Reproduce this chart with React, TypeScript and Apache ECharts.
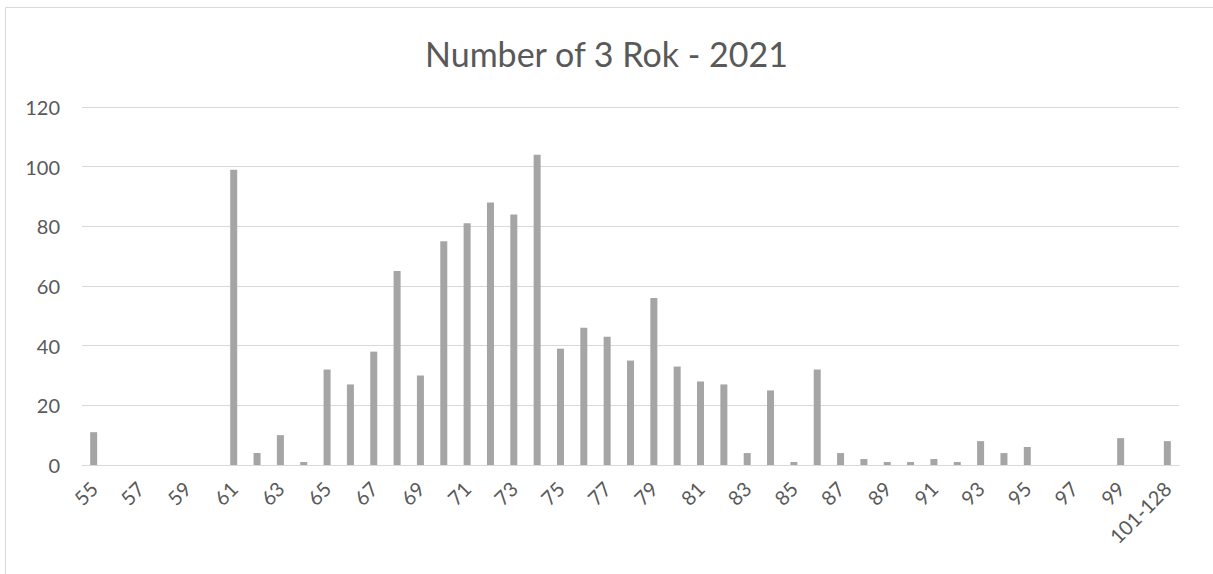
import React, { useEffect, useRef } from "react";
import * as echarts from "echarts";

const categories: string[] = [
  "55", "56", "57", "58", "59", "60", "61", "62", "63", "64",
  "65", "66", "67", "68", "69", "70", "71", "72", "73", "74",
  "75", "76", "77", "78", "79", "80", "81", "82", "83", "84",
  "85", "86", "87", "88", "89", "90", "91", "92", "93", "94",
  "95", "96", "97", "98", "99", "100", "101-128",
];

const counts: number[] = [
  11, 0, 0, 0, 0, 0, 99, 4, 10, 1,
  32, 27, 38, 65, 30, 75, 81, 88, 84, 104,
  39, 46, 43, 35, 56, 33, 28, 27, 4, 25,
  1, 32, 4, 2, 1, 1, 2, 1, 8, 4,
  6, 0, 0, 0, 9, 0, 8,
];

const titleText = "Number of 3 Rok - 2021";
const yMax = 120;
const yInterval = 20;

export default function App() {
  const ref = useRef<HTMLDivElement>(null);
  useEffect(() => {
    if (!ref.current) return;
    const chart = echarts.init(ref.current, null, { renderer: "svg" });
    chart.setOption({
      animation: false,
      backgroundColor: "#ffffff",
      title: {
        text: titleText,
        left: "center",
        top: 31,
        textStyle: {
          fontFamily: "Lato",
          fontSize: 34,
          fontWeight: "normal",
          color: "#595959",
        },
      },
      graphic: [
        {
          type: "rect",
          shape: { x: 5.5, y: 7.5, width: 1220, height: 600 },
          style: { fill: "none", stroke: "#d9d9d9", lineWidth: 1 },
          silent: true,
        },
      ],
      grid: { left: 82, right: 34, top: 107, bottom: 109, containLabel: false },
      xAxis: {
        type: "category",
        data: categories,
        axisLine: { show: true, lineStyle: { color: "#d9d9d9", width: 1 } },
        axisTick: { show: false },
        axisLabel: {
          interval: 1,
          rotate: 45,
          margin: 20,
          fontFamily: "Lato",
          fontSize: 20,
          color: "#595959",
        },
      },
      yAxis: {
        type: "value",
        min: 0,
        max: yMax,
        interval: yInterval,
        axisLine: { show: false },
        axisTick: { show: false },
        splitLine: { lineStyle: { color: "#d9d9d9", width: 1 } },
        axisLabel: {
          margin: 22,
          fontFamily: "Lato",
          fontSize: 20,
          color: "#595959",
        },
      },
      series: [
        {
          type: "bar",
          data: counts,
          barWidth: 7,
          itemStyle: { color: "#a5a5a5" },
        },
      ],
    });
    return () => chart.dispose();
  }, []);
  return (
    <div
      ref={ref}
      style={{ position: "fixed", left: 0, top: 0, width: 1213, height: 574 }}
    />
  );
}
